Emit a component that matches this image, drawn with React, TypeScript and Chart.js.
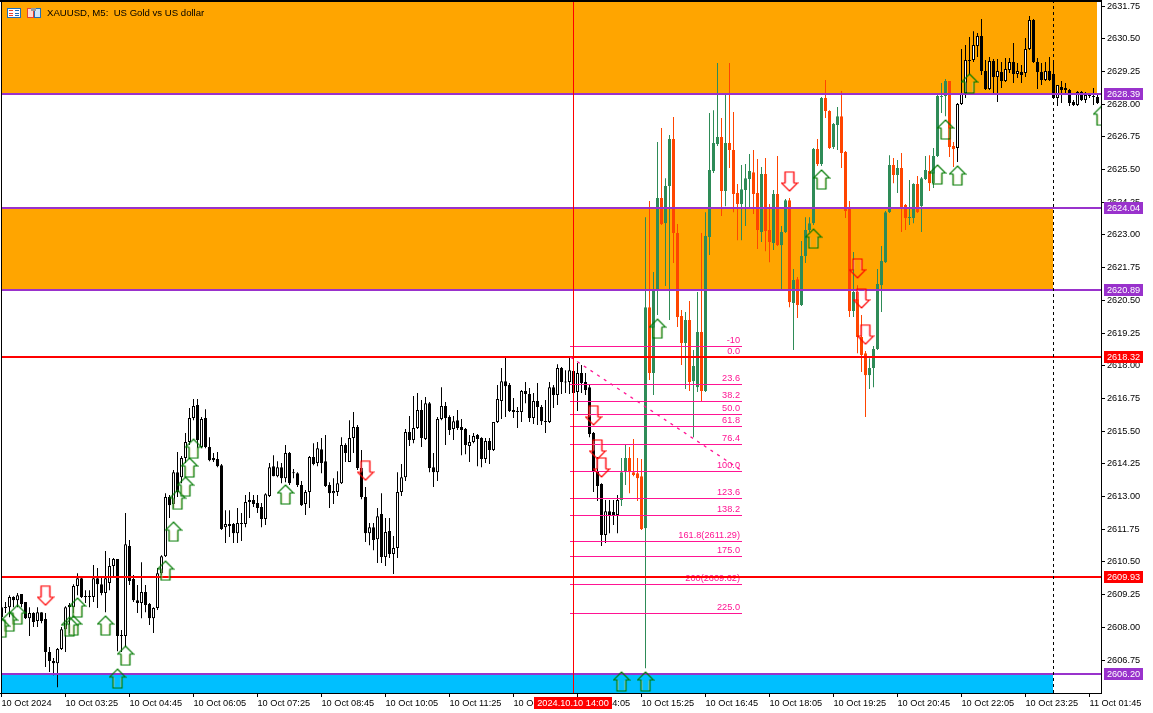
import React, { useEffect, useRef } from "react";
import { Chart, registerables } from "chart.js";

Chart.register(...registerables);

const highs = [
2608.97,2608.97,2609.23,2609.19,2609.31,2609.27,2608.97,2608.77,2608.58,2608.77,
2608.58,2608.55,2607.25,2606.83,2607.21,2608.01,2608.81,2608.93,2609.65,2610.07,
2609.92,2609.42,2609.42,2610.38,2610.27,2609.92,2610.92,2610.65,2610.65,2610.61,
2607.90,2612.37,2611.34,2610.00,2609.62,2610.49,2609.62,2608.93,2608.77,2610.27,
2610.76,2613.13,2613.06,2614.01,2614.70,2614.55,2615.43,2616.38,2616.73,2616.73,
2616.04,2616.34,2615.27,2614.66,2614.70,2614.24,2612.48,2612.48,2611.99,2612.56,
2612.37,2613.06,2613.17,2613.06,2613.06,2612.75,2613.13,2614.28,2614.58,2614.35,
2614.28,2614.97,2614.70,2614.05,2613.93,2613.59,2613.25,2614.55,2615.04,2615.08,
2615.24,2615.35,2613.55,2613.70,2613.97,2615.27,2615.04,2615.92,2616.23,2615.73,
2614.78,2613.36,2611.99,2611.99,2612.56,2613.13,2612.18,2612.18,2611.49,2613.93,
2614.24,2615.58,2616.08,2616.84,2616.96,2616.69,2616.80,2616.61,2614.66,2616.04,
2617.18,2616.61,2616.11,2616.08,2616.31,2615.96,2615.62,2615.35,2615.43,2615.39,
2615.27,2615.24,2615.24,2615.85,2617.26,2617.91,2618.33,2617.34,2616.77,2616.42,
2617.07,2617.38,2617.15,2616.96,2617.34,2616.50,2616.69,2617.38,2617.26,2618.06,
2617.95,2617.83,2618.33,2617.91,2618.10,2618.03,2617.72,2617.26,2615.47,2614.51,
2613.51,2612.87,2612.87,2612.87,2613.06,2614.47,2614.97,2614.89,2615.20,2614.47,
2614.43,2623.68,2624.30,2621.58,2626.55,2627.09,2625.17,2626.82,2627.51,2623.42,
2620.13,2620.05,2620.47,2618.60,2620.82,2623.07,2623.87,2627.66,2627.77,2629.57,
2627.47,2628.35,2629.57,2627.70,2624.95,2625.67,2625.71,2626.09,2626.25,2625.90,
2625.60,2625.94,2624.18,2624.72,2626.02,2623.34,2624.37,2624.41,2621.70,2621.39,
2622.77,2623.68,2623.68,2626.32,2626.67,2628.27,2628.92,2627.77,2627.28,2627.89,
2628.50,2626.21,2624.30,2622.35,2621.08,2619.94,2618.56,2618.29,2618.75,2621.70,
2622.58,2623.91,2626.05,2625.94,2625.86,2626.13,2624.18,2625.10,2624.98,2625.25,
2625.21,2626.02,2626.05,2626.32,2628.42,2628.81,2628.96,2628.88,2626.55,2628.04,
2630.11,2630.26,2630.57,2630.79,2630.72,2631.25,2629.69,2629.80,2629.72,2629.72,
2629.61,2629.76,2629.76,2630.34,2629.57,2629.50,2630.53,2631.37,2631.25,2629.76,
2629.57,2629.61,2629.80,2629.69,2628.73,2628.88,2628.81,2628.58,2628.16,2628.50,
2628.50,2628.46,2628.42,2628.62,2628.42,
];

const lows = [
2608.28,2608.55,2608.39,2608.77,2608.77,2608.77,2608.32,2607.67,2608.01,2608.01,
2608.16,2606.48,2606.29,2606.17,2605.71,2607.13,2607.06,2607.78,2608.55,2609.23,
2609.12,2608.93,2608.77,2608.97,2608.74,2609.23,2608.58,2609.42,2609.92,2607.09,
2607.06,2607.25,2609.62,2608.97,2608.55,2608.35,2608.58,2608.09,2607.78,2608.66,
2610.00,2610.69,2612.18,2612.56,2612.98,2613.51,2614.28,2614.97,2615.92,2614.85,
2614.85,2614.85,2614.35,2614.32,2614.12,2611.72,2611.22,2611.45,2611.22,2611.22,
2611.30,2611.83,2612.18,2612.60,2612.37,2611.83,2611.91,2612.98,2613.78,2613.74,
2613.51,2613.55,2613.44,2613.70,2613.36,2612.64,2612.29,2612.56,2614.20,2614.16,
2613.89,2613.36,2612.56,2612.71,2613.02,2613.48,2614.32,2614.32,2614.66,2614.01,
2612.90,2611.26,2611.14,2610.95,2610.46,2610.46,2610.34,2610.65,2610.04,2610.65,
2613.02,2613.59,2614.93,2615.04,2615.58,2614.89,2615.16,2613.93,2613.36,2613.59,
2615.92,2614.97,2615.35,2615.16,2615.54,2614.58,2614.62,2614.32,2615.04,2614.16,
2614.12,2614.28,2614.24,2614.74,2615.81,2615.96,2616.04,2616.23,2616.00,2615.62,
2615.85,2616.57,2615.85,2615.77,2615.73,2615.73,2615.43,2615.81,2616.38,2616.50,
2616.92,2616.96,2616.92,2616.96,2616.27,2616.96,2616.88,2615.27,2613.17,2612.83,
2611.11,2611.22,2611.60,2611.91,2611.60,2612.64,2613.44,2613.13,2613.78,2612.83,
2611.72,2606.44,2617.45,2616.88,2619.94,2623.38,2621.05,2619.75,2621.93,2619.48,
2618.03,2617.11,2617.03,2615.27,2617.00,2616.65,2617.00,2622.23,2625.37,2626.40,
2623.72,2624.10,2625.56,2623.87,2622.80,2622.80,2623.34,2624.07,2623.80,2622.46,
2622.73,2622.38,2621.96,2622.42,2622.58,2620.93,2623.07,2620.24,2618.60,2619.82,
2620.28,2621.93,2623.11,2623.38,2625.63,2625.63,2627.47,2626.28,2626.28,2626.25,
2625.56,2623.65,2619.86,2619.86,2618.48,2617.76,2616.04,2617.11,2617.18,2618.60,
2620.05,2621.93,2623.84,2624.98,2624.60,2623.11,2623.19,2623.38,2623.45,2623.84,
2623.11,2625.10,2624.68,2624.79,2625.98,2627.66,2627.54,2625.98,2625.60,2625.79,
2627.97,2628.23,2629.11,2629.61,2629.80,2629.11,2628.54,2628.54,2628.42,2628.08,
2628.62,2628.85,2629.19,2628.81,2629.00,2628.81,2629.04,2630.07,2629.57,2628.58,
2628.73,2628.88,2628.88,2628.20,2627.93,2628.04,2628.42,2627.93,2627.93,2627.93,
2628.12,2628.04,2628.23,2627.97,2628.00,
];

const opens = [
2608.77,2608.77,2608.77,2609.16,2609.04,2609.27,2608.97,2608.35,2608.55,2608.24,
2608.58,2608.32,2607.06,2606.71,2606.63,2607.17,2607.93,2608.85,2608.77,2609.58,
2609.88,2609.19,2609.16,2609.16,2609.88,2609.65,2609.31,2609.69,2610.34,2610.61,
2607.70,2607.67,2611.11,2609.85,2609.04,2608.93,2609.35,2608.89,2608.35,2608.74,
2610.07,2610.72,2612.98,2612.71,2613.93,2613.74,2614.47,2615.08,2616.00,2616.50,
2614.89,2616.00,2614.89,2614.47,2614.43,2614.20,2611.83,2611.95,2611.95,2611.60,
2611.95,2611.95,2612.79,2612.87,2612.75,2612.60,2612.14,2613.02,2614.16,2613.78,
2614.12,2613.70,2614.66,2613.93,2613.89,2613.44,2612.71,2613.17,2614.51,2614.28,
2614.81,2614.35,2613.44,2613.13,2613.17,2613.51,2614.97,2614.32,2615.24,2615.66,
2614.09,2612.98,2611.60,2611.83,2611.37,2612.33,2610.69,2611.68,2610.80,2611.03,
2613.17,2613.74,2615.47,2615.16,2615.62,2616.31,2615.20,2616.57,2614.12,2613.93,
2615.96,2616.46,2616.04,2615.58,2615.92,2615.66,2615.58,2614.93,2615.08,2615.35,
2615.24,2614.43,2615.12,2614.78,2615.85,2616.65,2617.41,2617.26,2616.31,2616.27,
2616.23,2617.03,2616.92,2616.00,2616.65,2616.42,2615.88,2615.85,2617.18,2616.88,
2617.91,2617.38,2617.38,2617.80,2617.00,2617.72,2617.38,2617.18,2615.43,2613.97,
2613.48,2611.53,2612.44,2612.41,2612.29,2612.87,2613.93,2614.47,2613.93,2613.89,
2613.78,2611.79,2620.24,2617.72,2620.93,2624.41,2623.45,2624.87,2626.67,2623.07,
2619.90,2618.87,2619.75,2617.41,2617.18,2619.29,2617.03,2622.92,2625.44,2626.48,
2626.74,2624.68,2626.51,2626.25,2624.60,2624.18,2624.72,2625.14,2625.40,2624.60,
2623.11,2625.33,2623.19,2622.69,2624.56,2622.61,2623.11,2624.33,2620.40,2621.31,
2620.32,2622.19,2623.19,2623.45,2626.28,2625.71,2628.23,2627.74,2626.36,2627.20,
2627.54,2626.17,2624.07,2620.09,2620.82,2619.10,2618.48,2617.64,2617.91,2618.64,
2621.08,2621.96,2623.87,2625.67,2625.29,2625.56,2624.14,2623.65,2623.65,2624.95,
2624.10,2625.14,2625.44,2624.98,2626.02,2628.27,2628.31,2628.88,2626.40,2626.32,
2628.00,2628.42,2629.69,2629.69,2630.22,2630.60,2629.27,2628.58,2629.65,2629.04,
2629.23,2628.88,2629.30,2629.61,2629.15,2629.23,2629.19,2630.11,2631.22,2629.61,
2629.23,2628.92,2629.27,2629.15,2628.23,2628.65,2628.62,2628.54,2628.08,2627.97,
2628.46,2628.16,2628.35,2628.31,2628.27,
];

const closes = [
2608.39,2608.74,2609.16,2609.04,2609.23,2608.89,2608.35,2608.55,2608.20,2608.58,
2608.24,2607.06,2606.71,2606.63,2607.17,2607.93,2608.77,2608.77,2609.58,2609.88,
2609.16,2609.16,2609.19,2609.88,2609.65,2609.31,2609.88,2610.34,2610.61,2607.67,
2607.67,2611.18,2609.77,2609.04,2608.93,2609.35,2608.85,2608.35,2608.74,2610.07,
2610.72,2612.98,2612.67,2613.93,2613.17,2614.47,2615.08,2616.00,2616.46,2615.16,
2615.96,2614.89,2614.39,2614.39,2614.16,2611.76,2611.95,2611.87,2611.60,2611.99,
2611.99,2612.79,2612.87,2612.71,2612.56,2612.14,2613.09,2614.12,2613.78,2614.12,
2613.70,2614.66,2613.51,2613.89,2613.44,2612.67,2613.17,2614.51,2614.24,2614.85,
2614.28,2613.40,2613.13,2613.21,2613.51,2614.97,2614.66,2615.24,2615.66,2614.09,
2612.98,2611.60,2611.83,2611.34,2612.25,2610.69,2611.64,2610.80,2611.03,2613.17,
2613.74,2615.47,2615.16,2615.62,2616.31,2615.24,2616.57,2614.09,2613.93,2615.96,
2616.46,2616.00,2615.54,2615.88,2615.62,2615.54,2614.97,2615.08,2615.31,2615.20,
2614.43,2615.12,2614.78,2615.85,2616.73,2617.41,2617.22,2616.27,2616.23,2616.23,
2617.03,2616.92,2616.00,2616.65,2616.42,2615.88,2615.85,2617.18,2616.88,2617.91,
2617.38,2617.36,2617.83,2616.96,2617.72,2617.34,2617.07,2615.39,2613.97,2613.40,
2611.53,2612.44,2612.29,2612.29,2612.87,2613.93,2614.47,2613.93,2613.82,2613.70,
2611.76,2620.24,2617.72,2620.86,2624.41,2623.42,2624.87,2626.67,2623.07,2619.86,
2618.87,2619.75,2617.38,2617.99,2619.29,2617.03,2622.96,2625.48,2626.51,2626.74,
2624.68,2626.51,2626.25,2624.56,2624.18,2624.75,2625.17,2625.44,2624.56,2623.19,
2625.33,2623.15,2622.73,2624.56,2622.61,2623.11,2624.33,2620.43,2621.28,2620.32,
2622.19,2623.19,2623.45,2626.28,2625.71,2628.23,2627.74,2626.32,2627.24,2627.54,
2626.13,2623.91,2620.09,2620.82,2619.10,2618.41,2617.64,2617.91,2618.64,2621.12,
2622.00,2623.87,2625.67,2625.29,2625.56,2624.07,2623.65,2623.68,2624.95,2623.87,
2625.17,2625.48,2624.98,2626.02,2628.31,2628.31,2628.88,2626.36,2626.28,2628.00,
2628.42,2629.69,2629.65,2630.26,2630.60,2629.27,2628.58,2629.65,2629.04,2629.27,
2628.88,2629.34,2629.61,2629.15,2629.27,2629.11,2630.11,2631.22,2629.61,2629.23,
2628.92,2629.27,2628.92,2628.23,2628.73,2628.54,2628.54,2628.04,2627.97,2628.46,
2628.16,2628.35,2628.31,2628.27,2628.04,
];

const highlightedBars = [155, 238];
const xTickBars = [0, 16, 32, 48, 64, 80, 96, 112, 128, 144, 160, 176, 192, 208, 224, 240, 256, 272];
const xTickLabels = [
  "10 Oct 2024", "10 Oct 03:25", "10 Oct 04:45", "10 Oct 06:05", "10 Oct 07:25", "10 Oct 08:45",
  "10 Oct 10:05", "10 Oct 11:25", "10 Oct 12:45", "10 Oct 14:05", "10 Oct 15:25", "10 Oct 16:45",
  "10 Oct 18:05", "10 Oct 19:25", "10 Oct 20:45", "10 Oct 22:05", "10 Oct 23:25", "11 Oct 01:45",
];
const yTickValues = [
  2606.75, 2608, 2609.25, 2610.5, 2611.75, 2613, 2614.25, 2615.5, 2616.75, 2618, 2619.25,
  2620.5, 2621.75, 2623, 2624.25, 2625.5, 2626.75, 2628, 2629.25, 2630.5, 2631.75,
];
const upArrowBars = [29, 31, 26, 19, 18, 17, 4, 2, 0, 41, 43, 44, 46, 47, 48, 71, 155, 161, 164, 205, 203, 234, 239, 236, 242, 275];
const upArrowPrices = [
  2606.04, 2606.92, 2608.07, 2608.76, 2608.07, 2608.03, 2608.49, 2608.22, 2607.99, 2610.17, 2611.66, 2612.88, 2613.38,
  2614.11, 2614.83, 2613.08, 2605.93, 2605.93, 2619.42, 2625.12, 2622.86, 2625.31, 2625.27, 2627.03, 2628.79, 2627.56,
];
const downArrowBars = [11, 91, 148, 149, 150, 197, 214, 215, 216];
const downArrowPrices = [2609.21, 2613.99, 2616.1, 2614.8, 2614.11, 2625.04, 2621.72, 2620.57, 2619.19];

const purpleLevels = [2628.39, 2624.04, 2620.89, 2606.2];
const redLevels = [2618.32, 2609.93];
const zoneTops = [2631.98, 2624.04, 2606.2];
const zoneBottoms = [2628.39, 2620.89, 2605.49];
const zoneEndBars = [274, 263, 263];
const zoneColors = ["#FFA500", "#FFA500", "#00BFFF"];

const fibPrices = [2618.75, 2618.33, 2617.3, 2616.65, 2616.15, 2615.66, 2615.0, 2613.97, 2612.94, 2612.29, 2611.29, 2610.69, 2609.62, 2608.51];
const fibLabels = ["-10", "0.0", "23.6", "38.2", "50.0", "61.8", "76.4", "100.0", "123.6", "138.2", "161.8(2611.29)", "175.0", "200(2609.62)", "225.0"];
const fibStartBar = 142.25;
const fibEndBar = 185.25;
const crosshairBar = 143;
const crosshairLabel = "2024.10.10 14:00";
const dashedBar = 263;
const chartTitle = "XAUUSD, M5:  US Gold vs US dollar";

const FONT = '"Liberation Sans", Arial, sans-serif';
const FONT_SIZE = 9.2;
const Y_MIN = 2605.49;
const Y_MAX = 2631.98;
const PURPLE = "#9932CC";
const RED = "#FF0000";
const PINK = "#FF1493";
const GREEN = "#2E8B57";
const ORANGE = "#FF4500";

function makeArrow(color: string, inner: string, up: boolean) {
  const c = document.createElement("canvas");
  c.width = 18;
  c.height = 21;
  const g = c.getContext("2d")!;
  const pts: number[][] = [[9, 1], [17, 9], [13.5, 9], [13.5, 20], [4.5, 20], [4.5, 9], [1, 9]];
  g.beginPath();
  pts.forEach(([x, y], i) => {
    const yy = up ? y : 21 - y;
    if (i === 0) g.moveTo(x, yy);
    else g.lineTo(x, yy);
  });
  g.closePath();
  g.strokeStyle = color;
  g.lineWidth = 1.2;
  g.stroke();
  g.beginPath();
  g.moveTo(5.6, up ? 9.5 : 11.5);
  g.lineTo(5.6, up ? 19 : 2);
  g.moveTo(12.4, up ? 9.5 : 11.5);
  g.lineTo(12.4, up ? 19 : 2);
  g.strokeStyle = inner;
  g.lineWidth = 0.7;
  g.stroke();
  return c;
}

const overlayPlugin = {
  id: "overlay",
  beforeDatasetsDraw(chart: any) {
    const { ctx, scales } = chart;
    const { x, y } = scales;
    ctx.save();
    zoneTops.forEach((top, i) => {
      const y1 = Math.round(y.getPixelForValue(top));
      const y2 = Math.round(y.getPixelForValue(zoneBottoms[i]));
      ctx.fillStyle = zoneColors[i];
      ctx.fillRect(2, y1, Math.floor(x.getPixelForValue(zoneEndBars[i])) - 2, y2 - y1);
    });
    ctx.restore();
  },
  afterDatasetDraw(chart: any, args: any) {
    if (args.index !== 5) return;
    const { ctx, scales } = chart;
    const { x, y } = scales;
    const x1 = Math.floor(x.getPixelForValue(fibStartBar));
    const x2 = Math.floor(x.getPixelForValue(fibEndBar));
    ctx.save();
    ctx.font = `${FONT_SIZE}px ${FONT}`;
    ctx.textAlign = "right";
    ctx.textBaseline = "alphabetic";
    fibPrices.forEach((p, i) => {
      const py = Math.floor(y.getPixelForValue(p));
      ctx.fillStyle = PINK;
      ctx.fillRect(x1, py, x2 - x1, 1);
      ctx.fillText(fibLabels[i], x2 - 2, py - 3);
    });
    purpleLevels.forEach((p) => {
      ctx.fillStyle = PURPLE;
      ctx.fillRect(0, Math.round(y.getPixelForValue(p)) - 1, chart.chartArea.right, 2);
    });
    redLevels.forEach((p) => {
      ctx.fillStyle = RED;
      ctx.fillRect(0, Math.round(y.getPixelForValue(p)) - 1, chart.chartArea.right, 2);
    });
    ctx.restore();
  },
  afterDraw(chart: any) {
    const { ctx, scales, chartArea } = chart;
    const { x, y } = scales;
    ctx.save();
    // frame
    ctx.fillStyle = "#fff";
    ctx.fillRect(0, 0, 1, chartArea.bottom + 1);
    ctx.fillStyle = "#000";
    ctx.fillRect(1, 0, 1, chartArea.bottom);
    ctx.fillRect(0, 0, chartArea.right + 1, 2);
    ctx.fillRect(0, chartArea.bottom, chartArea.right + 1, 1);
    ctx.fillRect(chartArea.right, 0, 1, chartArea.bottom + 1);
    // price tags
    ctx.font = `${FONT_SIZE}px ${FONT}`;
    ctx.textAlign = "center";
    ctx.textBaseline = "middle";
    const tag = (p: number, color: string) => {
      const py = Math.round(y.getPixelForValue(p));
      ctx.fillStyle = color;
      ctx.fillRect(1104, py - 6, 39, 12);
      ctx.fillStyle = "#fff";
      ctx.fillText(p.toFixed(2), 1123.5, py + 0.5);
    };
    purpleLevels.forEach((p) => tag(p, PURPLE));
    redLevels.forEach((p) => tag(p, RED));
    // crosshair time tag
    const cx = x.getPixelForValue(crosshairBar);
    ctx.fillStyle = RED;
    ctx.fillRect(cx - 39.5, 697, 78, 12);
    ctx.fillStyle = "#fff";
    ctx.fillText(crosshairLabel, cx - 0.5, 703.5);
    // header
    ctx.fillStyle = "#000";
    ctx.textAlign = "left";
    ctx.font = `9.6px ${FONT}`;
    ctx.fillText(chartTitle, 47, 13.5);
    ctx.fillStyle = "#fff";
    ctx.fillRect(7, 8, 14, 10);
    ctx.strokeStyle = "#1E6FB8";
    ctx.strokeRect(7.5, 8.5, 13, 9);
    ctx.fillStyle = "#E8432E";
    [10, 13, 15].forEach((r) => ctx.fillRect(9, r, 4, 1));
    ctx.fillStyle = "#1E6FB8";
    [10, 13, 15].forEach((r) => ctx.fillRect(15, r, 4, 1));
    ctx.fillStyle = "#FFD9D0";
    ctx.fillRect(27, 8, 7, 10);
    ctx.strokeStyle = "#E8432E";
    ctx.strokeRect(27.5, 8.5, 6, 9);
    ctx.fillStyle = "#CFE6F8";
    ctx.fillRect(34, 8, 7, 10);
    ctx.strokeStyle = "#1E6FB8";
    ctx.strokeRect(34.5, 8.5, 6, 9);
    ctx.fillStyle = "#9A9A9A";
    ctx.fillRect(31, 8, 5, 3);
    ctx.restore();
  },
};

export default function App() {
  const ref = useRef<HTMLCanvasElement | null>(null);
  useEffect(() => {
    document.body.style.margin = "0";
    const up = makeArrow("#007A00", "#C8C88A", true);
    const down = makeArrow("#FF0000", "#FF9AB0", false);
    const bull = (i: number) => closes[i] >= opens[i];
    const colored = (i: number) => i >= highlightedBars[0] && i <= highlightedBars[1];
    const bodyFill = opens.map((_, i) => (colored(i) ? (bull(i) ? GREEN : ORANGE) : bull(i) ? "#fff" : "#000"));
    const bodyStroke = opens.map((_, i) => (colored(i) ? (bull(i) ? GREEN : ORANGE) : "#000"));
    const wickColor = opens.map((_, i) => (colored(i) ? (bull(i) ? GREEN : ORANGE) : "#000"));
    const chart = new Chart(ref.current!, {
      type: "bar",
      data: {
        datasets: [
          {
            type: "line",
            order: 1,
            showLine: false,
            clip: 0,
            pointStyle: up,
            pointRadius: 5,
            data: upArrowBars.map((b, i) => ({ x: b, y: upArrowPrices[i] })),
          },
          {
            type: "line",
            order: 1,
            showLine: false,
            clip: 0,
            pointStyle: down,
            pointRadius: 5,
            data: downArrowBars.map((b, i) => ({ x: b, y: downArrowPrices[i] })),
          },
          {
            type: "line",
            order: 2,
            borderColor: RED,
            borderWidth: 1,
            pointRadius: 0,
            data: [{ x: crosshairBar, y: Y_MIN }, { x: crosshairBar, y: Y_MAX }],
          },
          {
            type: "line",
            order: 2,
            borderColor: "#000",
            borderWidth: 1,
            borderDash: [3, 3],
            pointRadius: 0,
            data: [{ x: dashedBar, y: Y_MIN }, { x: dashedBar, y: Y_MAX }],
          },
          {
            type: "line",
            order: 2,
            borderColor: PINK,
            borderWidth: 1.3,
            borderDash: [3, 5],
            pointRadius: 0,
            data: [{ x: fibStartBar, y: fibPrices[1] }, { x: fibEndBar, y: fibPrices[7] }],
          },
          {
            type: "bar",
            order: 3,
            grouped: false,
            barThickness: 3,
            minBarLength: 1,
            inflateAmount: 0,
            borderWidth: 1,
            borderSkipped: false,
            backgroundColor: bodyFill,
            borderColor: bodyStroke,
            data: opens.map((o, i) => ({ x: i, y: [o, closes[i]] })),
          },
          {
            type: "bar",
            order: 4,
            grouped: false,
            barThickness: 1,
            inflateAmount: 0,
            borderWidth: 0,
            backgroundColor: wickColor,
            data: lows.map((l, i) => ({ x: i, y: [l, highs[i]] })),
          },
        ],
      } as any,
      options: {
        responsive: false,
        animation: false,
        events: [],
        layout: { padding: 0, autoPadding: false },
        plugins: { legend: { display: false }, tooltip: { enabled: false } },
        scales: {
          x: {
            type: "linear",
            offset: false,
            min: -0.375,
            max: 274.875,
            border: { display: false },
            grid: { offset: false, drawOnChartArea: false, drawTicks: true, tickLength: 4, color: "#000" },
            ticks: {
              autoSkip: false,
              maxRotation: 0,
              minRotation: 0,
              align: "start",
              padding: 1,
              color: "#000",
              font: { family: FONT, size: FONT_SIZE },
              callback: (v: any) => {
                const i = xTickBars.indexOf(Number(v));
                return i >= 0 ? xTickLabels[i] : "";
              },
            },
            afterBuildTicks: (s: any) => {
              s.ticks = xTickBars.map((value) => ({ value }));
            },
            afterFit: (s: any) => {
              s.height = 20;
              s.paddingLeft = s.paddingRight = s.paddingTop = s.paddingBottom = 0;
            },
          },
          y: {
            type: "linear",
            position: "right",
            min: Y_MIN,
            max: Y_MAX,
            border: { display: false },
            grid: { drawOnChartArea: false, drawTicks: true, tickLength: 4, color: "#000" },
            ticks: {
              autoSkip: false,
              padding: 2,
              color: "#000",
              font: { family: FONT, size: FONT_SIZE },
              callback: (v: any) => Number(v).toFixed(2),
            },
            afterBuildTicks: (s: any) => {
              s.ticks = yTickValues.map((value) => ({ value }));
            },
            afterFit: (s: any) => {
              s.width = 52;
              s.paddingLeft = s.paddingRight = s.paddingTop = s.paddingBottom = 0;
            },
          },
        },
      } as any,
      plugins: [overlayPlugin] as any,
    });
    return () => chart.destroy();
  }, []);
  return (
    <canvas
      ref={ref}
      width={1153}
      height={713}
      style={{ display: "block", position: "fixed", left: 0, top: 0, width: 1153, height: 713, background: "#fff" }}
    />
  );
}
